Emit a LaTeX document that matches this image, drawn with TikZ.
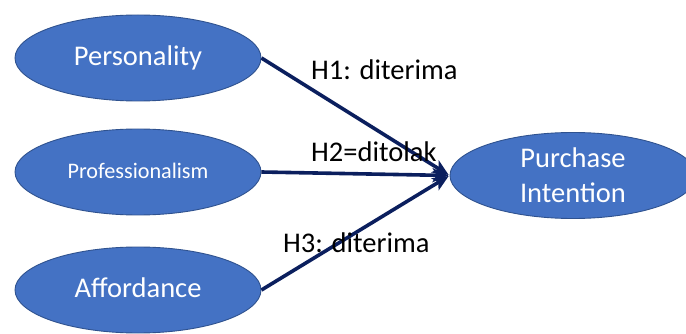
\documentclass[tikz,border=0pt]{standalone}
\usepackage{fontspec}
\setmainfont{Carlito}
\usetikzlibrary{arrows.meta,shapes.geometric}
\definecolor{ovalfill}{HTML}{4472C4}
\definecolor{ovalline}{HTML}{2F528F}
\definecolor{arrowblue}{HTML}{0B1F5E}
\tikzset{
  oval/.style={ellipse, draw=ovalline, fill=ovalfill, line width=0.9pt,
    minimum width=246pt, minimum height=86pt, inner sep=0pt,
    text=white, font=\fontsize{28.5}{35}\selectfont},
  onelineoval/.style={oval, text height=18.3pt, text depth=3pt},
  hyplabel/.style={anchor=base west, inner sep=0pt, text=black,
    font=\fontsize{28.5}{35}\selectfont},
  link/.style={draw=arrowblue, line width=3.6pt,
    -{Stealth[length=16pt,width=14pt,inset=4pt]}, shorten >=1pt}
}
\begin{document}
\begin{tikzpicture}[x=1pt,y=-1pt]
\useasboundingbox (0,0) rectangle (686,334);
\clip (0,0) rectangle (686,334);
\fill[white] (0,0) rectangle (686,334);
\node[onelineoval] (pers) at (138,58) {Personality};
\node[onelineoval, font=\fontsize{22.2}{27}\selectfont, text height=14.3pt, text depth=2pt] (prof) at (138,172) {Professionalism};
\node[onelineoval] (aff) at (138,290) {Affordance};
\node[oval, align=center] (pi) at (573,175.5) {Purchase\\Intention};
\draw[link] (pers.east) -- (pi.west);
\draw[link] (prof.east) -- (pi.west);
\draw[link] (aff.east) -- (pi.west);
\node[hyplabel] (h1) at (311,80) {H1: diterima};
\node[hyplabel] (h2) at (311,162) {H2=ditolak};
\node[hyplabel] (h3) at (283,252) {H3: diterima};
\end{tikzpicture}
\end{document}
